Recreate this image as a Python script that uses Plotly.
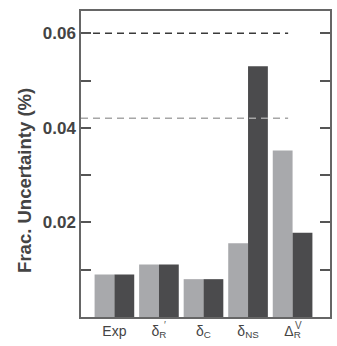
import plotly.graph_objects as go

categories = ["Exp", "δ<sub>R</sub>", "δ<sub>C</sub>", "δ<sub>NS</sub>", "Δ<sub>R</sub>"]
series_light = [0.009, 0.0111, 0.008, 0.0156, 0.0352]
series_dark = [0.009, 0.0111, 0.008, 0.053, 0.0178]
ref_dark = 0.060
ref_light = 0.042
ytick_vals = [0.02, 0.04, 0.06]
ytick_text = ["0.02", "0.04", "0.06"]
superscripts = {1: "′", 4: "V"}
y_title = "Frac. Uncertainty (%)"

xpos = list(range(len(categories)))
FONT = "Liberation Sans, Arial, sans-serif"

fig = go.Figure()
fig.add_trace(go.Bar(x=xpos, y=series_light, marker=dict(color="#a8a9ac", line=dict(width=0)), showlegend=False))
fig.add_trace(go.Bar(x=xpos, y=series_dark, marker=dict(color="#4b4b4d", line=dict(width=0)), showlegend=False))

fig.add_trace(go.Scatter(x=[-0.75, 3.9], y=[ref_dark, ref_dark], mode="lines",
                         line=dict(color="#3a3a3a", width=1.5, dash="7px,5px"), showlegend=False))
fig.add_trace(go.Scatter(x=[-0.75, 3.9], y=[ref_light, ref_light], mode="lines",
                         line=dict(color="#a6a6a6", width=1.5, dash="7px,5px"), showlegend=False))

for i, s in superscripts.items():
    fig.add_annotation(x=xpos[i], y=0, xref="x", yref="paper", text=s, showarrow=False,
                       xanchor="center", yanchor="top", xshift=6, yshift=-1,
                       font=dict(family=FONT, size=10, color="#555"))

fig.add_annotation(x=-0.225, y=0.448, xref="paper", yref="paper", text=y_title, showarrow=False,
                   textangle=-90, xanchor="center", yanchor="middle",
                   font=dict(family=FONT, size=18.5, color="#444", weight="bold"))

fig.update_layout(
    width=337, height=346,
    margin=dict(l=81, r=5, t=11, b=29),
    paper_bgcolor="white", plot_bgcolor="white",
    barmode="group", bargap=0.11, bargroupgap=0,
    font=dict(family=FONT, color="#444"),
    xaxis=dict(range=[-0.75, 4.84], tickvals=xpos, ticktext=categories, ticks="",
               showgrid=False, zeroline=False, showline=True, linecolor="#666", linewidth=1.5,
               mirror=True, tickfont=dict(size=14, color="#444")),
    yaxis=dict(range=[0, 0.0647], tickvals=ytick_vals, ticktext=ytick_text, ticks="inside",
               ticklen=10, tickwidth=1.5, tickcolor="#555", showgrid=False, zeroline=False,
               showline=True, linecolor="#666", linewidth=1.5, mirror="ticks",
               minor=dict(ticks="inside", tick0=0.01, dtick=0.02, ticklen=10, tickwidth=1.5,
                          tickcolor="#555", showgrid=False),
               tickfont=dict(size=17, color="#444", weight="bold")),
)

fig.write_html("out.html")
